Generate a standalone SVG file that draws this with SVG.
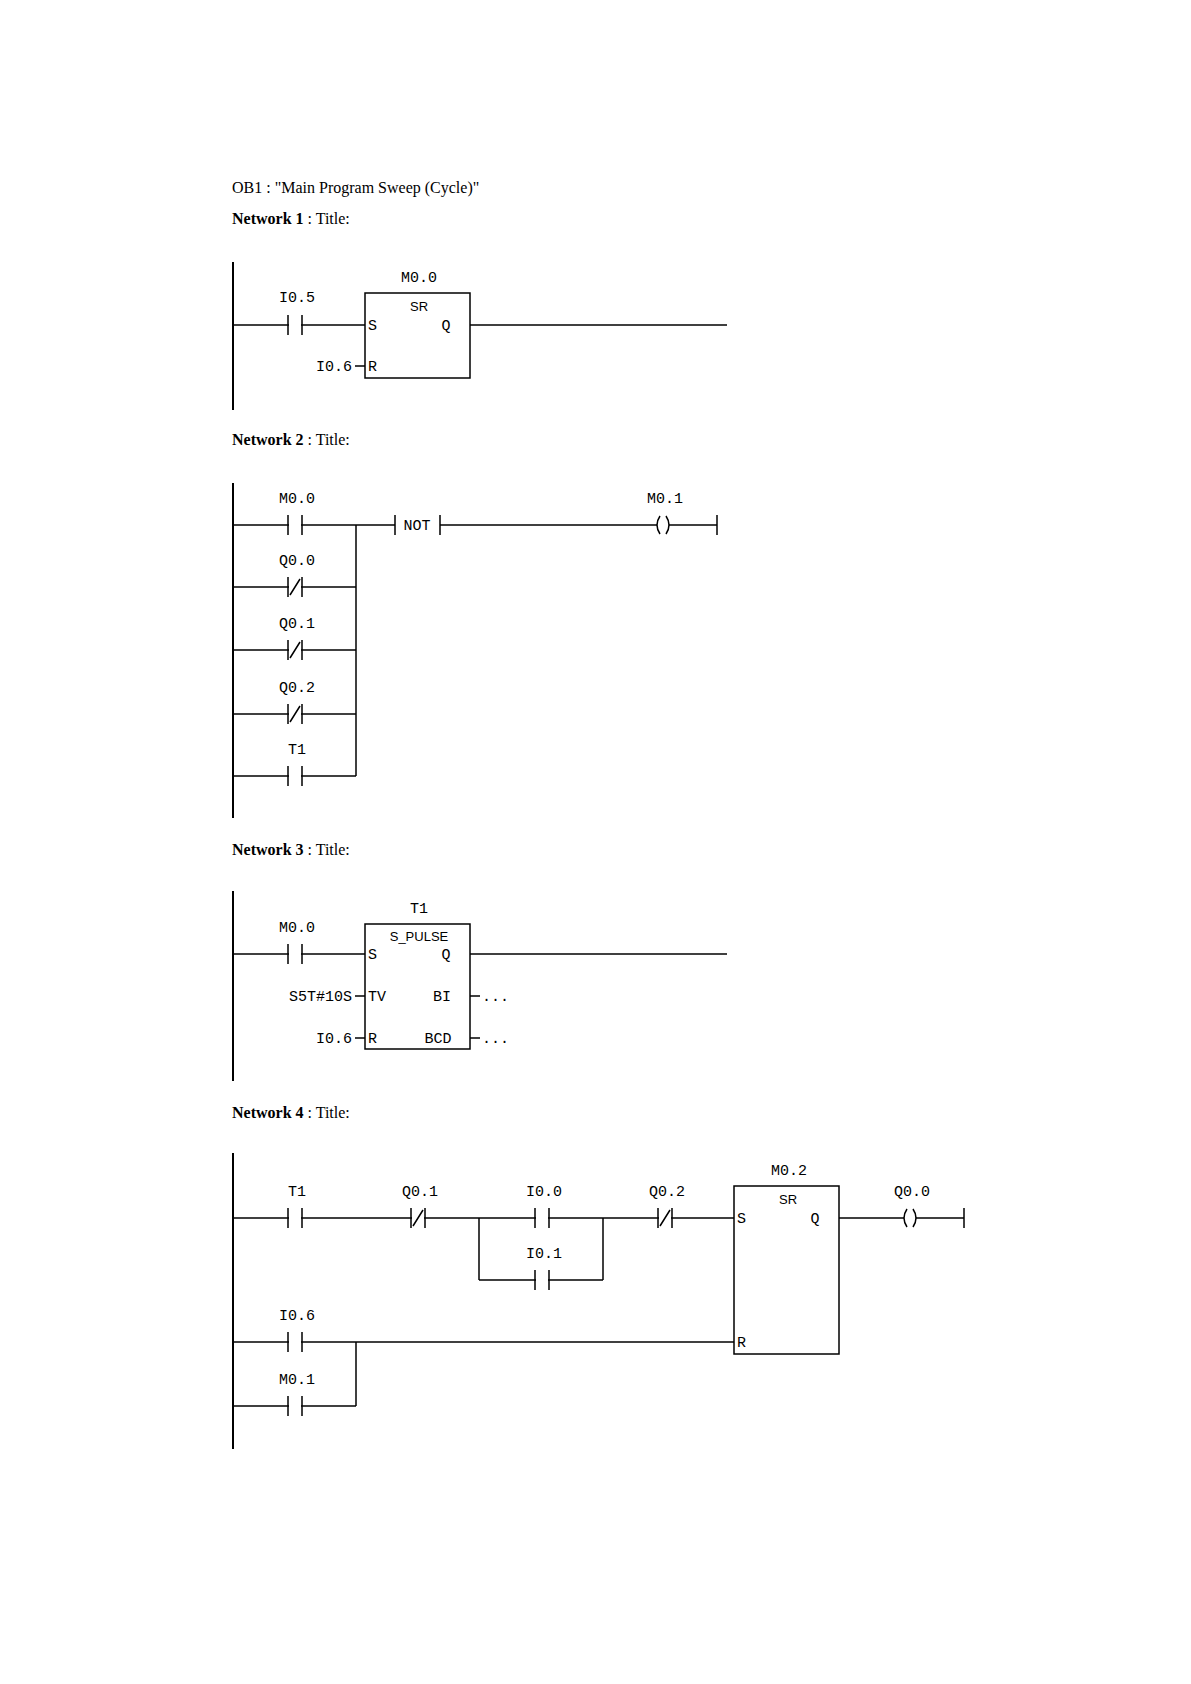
<svg xmlns="http://www.w3.org/2000/svg" xmlns:xlink="http://www.w3.org/1999/xlink" width="1191" height="1684" viewBox="0 0 1191 1684">
<style>
text{font-family:"Liberation Mono","DejaVu Sans Mono",monospace;font-size:15px;fill:#000}
.h{font-family:"Liberation Serif",serif;font-size:16px}
.b{font-weight:bold}
.s{font-family:"Liberation Sans",sans-serif;font-size:13px}
.m{text-anchor:middle}
.e{text-anchor:end}
line,path,rect{stroke:#000;stroke-width:1.5;fill:none}
.rail{stroke-width:2}
.wh{fill:#fff;stroke:none}
</style>
<defs>
<g id="no"><rect class="wh" x="-6" y="-3" width="12" height="6"/><path d="M-7,-10V10M7,-10V10"/></g>
<g id="nc"><rect class="wh" x="-6" y="-3" width="12" height="6"/><path d="M-7,-10V10M7,-10V10M-5,8L5,-8"/></g>
<g id="coil"><rect class="wh" x="-6" y="-3" width="12" height="6"/><path d="M-3,-9Q-9,0 -3,9M3,-9Q9,0 3,9"/></g>
</defs>
<text x="232" y="193" class="h">OB1 :  "Main Program Sweep (Cycle)"</text>
<text x="232" y="224" class="h"><tspan class="b">Network 1</tspan> : Title:</text>
<text x="232" y="445" class="h"><tspan class="b">Network 2</tspan> : Title:</text>
<text x="232" y="855" class="h"><tspan class="b">Network 3</tspan> : Title:</text>
<text x="232" y="1118" class="h"><tspan class="b">Network 4</tspan> : Title:</text>
<g id="connectors">
<line class="rail" x1="233" y1="262" x2="233" y2="410"/>
<line x1="233" y1="325" x2="365" y2="325"/>
<line x1="470" y1="325" x2="727" y2="325"/>
<line x1="355" y1="366" x2="365" y2="366"/>
<line class="rail" x1="233" y1="483" x2="233" y2="818"/>
<line x1="233" y1="525" x2="395" y2="525"/>
<line x1="440" y1="525" x2="717" y2="525"/>
<line x1="717" y1="515" x2="717" y2="535"/>
<line x1="233" y1="587" x2="356" y2="587"/>
<line x1="233" y1="650" x2="356" y2="650"/>
<line x1="233" y1="714" x2="356" y2="714"/>
<line x1="233" y1="776" x2="356" y2="776"/>
<line x1="356" y1="525" x2="356" y2="776"/>
<line class="rail" x1="233" y1="891" x2="233" y2="1081"/>
<line x1="233" y1="954" x2="365" y2="954"/>
<line x1="470" y1="954" x2="727" y2="954"/>
<line x1="355" y1="996" x2="365" y2="996"/>
<line x1="355" y1="1038" x2="365" y2="1038"/>
<line x1="470" y1="996" x2="480" y2="996"/>
<line x1="470" y1="1038" x2="480" y2="1038"/>
<line class="rail" x1="233" y1="1153" x2="233" y2="1449"/>
<line x1="233" y1="1218" x2="734" y2="1218"/>
<line x1="479" y1="1218" x2="479" y2="1280"/>
<line x1="603" y1="1218" x2="603" y2="1280"/>
<line x1="479" y1="1280" x2="603" y2="1280"/>
<line x1="839" y1="1218" x2="964" y2="1218"/>
<line x1="964" y1="1208" x2="964" y2="1228"/>
<line x1="233" y1="1342" x2="734" y2="1342"/>
<line x1="233" y1="1406" x2="356" y2="1406"/>
<line x1="356" y1="1342" x2="356" y2="1406"/>
</g>
<g id="n1-i05"><use xlink:href="#no" x="295" y="325"/><text x="297" y="302" class="m">I0.5</text></g>
<g id="n1-sr"><rect x="365" y="293" width="105" height="85"/><text x="419" y="282" class="m">M0.0</text><text x="419" y="311" class="m s">SR</text><text x="368" y="330">S</text><text x="446" y="330" class="m">Q</text><text x="368" y="371">R</text><text x="352" y="371" class="e">I0.6</text></g>
<g id="n2-m00"><use xlink:href="#no" x="295" y="525"/><text x="297" y="503" class="m">M0.0</text></g>
<g id="n2-q00"><use xlink:href="#nc" x="295" y="587"/><text x="297" y="565" class="m">Q0.0</text></g>
<g id="n2-q01"><use xlink:href="#nc" x="295" y="650"/><text x="297" y="628" class="m">Q0.1</text></g>
<g id="n2-q02"><use xlink:href="#nc" x="295" y="714"/><text x="297" y="692" class="m">Q0.2</text></g>
<g id="n2-t1"><use xlink:href="#no" x="295" y="776"/><text x="297" y="754" class="m">T1</text></g>
<g id="n2-not"><path d="M395,515V535M440,515V535"/><text x="417" y="530" class="m">NOT</text></g>
<g id="n2-m01"><use xlink:href="#coil" x="663" y="525"/><text x="665" y="503" class="m">M0.1</text></g>
<g id="n3-m00"><use xlink:href="#no" x="295" y="954"/><text x="297" y="932" class="m">M0.0</text></g>
<g id="n3-t1"><rect x="365" y="924" width="105" height="125"/><text x="419" y="913" class="m">T1</text><text x="419" y="941" class="m s">S_PULSE</text><text x="368" y="959">S</text><text x="446" y="959" class="m">Q</text><text x="368" y="1001">TV</text><text x="442" y="1001" class="m">BI</text><text x="368" y="1043">R</text><text x="438" y="1043" class="m">BCD</text><text x="352" y="1001" class="e">S5T#10S</text><text x="352" y="1043" class="e">I0.6</text><text x="482" y="1001">...</text><text x="482" y="1043">...</text></g>
<g id="n4-t1"><use xlink:href="#no" x="295" y="1218"/><text x="297" y="1196" class="m">T1</text></g>
<g id="n4-q01"><use xlink:href="#nc" x="418" y="1218"/><text x="420" y="1196" class="m">Q0.1</text></g>
<g id="n4-i00"><use xlink:href="#no" x="542" y="1218"/><text x="544" y="1196" class="m">I0.0</text></g>
<g id="n4-i01"><use xlink:href="#no" x="542" y="1280"/><text x="544" y="1258" class="m">I0.1</text></g>
<g id="n4-q02"><use xlink:href="#nc" x="665" y="1218"/><text x="667" y="1196" class="m">Q0.2</text></g>
<g id="n4-sr"><rect x="734" y="1186" width="105" height="168"/><text x="789" y="1175" class="m">M0.2</text><text x="788" y="1204" class="m s">SR</text><text x="737" y="1223">S</text><text x="815" y="1223" class="m">Q</text><text x="737" y="1347">R</text></g>
<g id="n4-q00"><use xlink:href="#coil" x="910" y="1218"/><text x="912" y="1196" class="m">Q0.0</text></g>
<g id="n4-i06"><use xlink:href="#no" x="295" y="1342"/><text x="297" y="1320" class="m">I0.6</text></g>
<g id="n4-m01"><use xlink:href="#no" x="295" y="1406"/><text x="297" y="1384" class="m">M0.1</text></g>
</svg>
